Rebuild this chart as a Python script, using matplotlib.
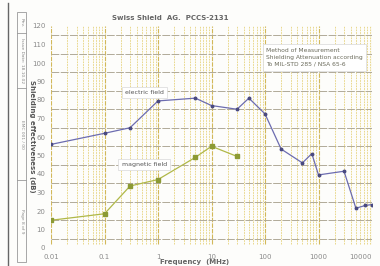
import matplotlib
matplotlib.use("Agg")
import matplotlib.pyplot as plt
from matplotlib.patches import Rectangle
from matplotlib.ticker import FixedLocator, NullFormatter

# data
elec_freq = [0.01, 0.1, 0.3, 1, 5, 10, 30, 50, 100, 200, 500, 750, 1000, 3000, 5000, 7500, 10000]
elec_db = [56, 62, 65, 79.5, 81, 77, 75, 81, 72.5, 53.5, 46, 51, 39.5, 41.5, 21.5, 23, 23.5]
mag_freq = [0.01, 0.1, 0.3, 1, 5, 10, 30]
mag_db = [15, 18.5, 33.5, 37, 49, 55, 49.5]

x_ticks = [0.01, 0.1, 1, 10, 100, 1000, 10000]
x_labels = ["0.01", "0.1", "1", "10", "100", "1000", "10000"]
y_ticks = list(range(0, 121, 10))
y_grid = list(range(5, 120, 10))

strip_bounds = [12, 33, 88, 180, 262]
strip_texts = ["Rev.", "Issue Date: 18.10.02", "EMC 001 / 00", "Page 8 of 9"]

W, H = 380, 266
fig = plt.figure(figsize=(3.8, 2.66), dpi=100)
fig.patch.set_facecolor("#fdfdfb")

ax = fig.add_axes([51 / W, 1 - 248 / H, (372 - 51) / W, (248 - 26) / H])
ax.set_facecolor("#fdfdfb")
ax.set_xscale("log")
ax.set_xlim(0.01, 10000)
ax.set_ylim(0, 120)
for s in ax.spines.values():
    s.set_visible(False)

# grid: yellow verticals, greyish dashed horizontals (offset like the print)
minors = [m * 10.0 ** e for e in range(-2, 4) for m in range(2, 10)]
for f in minors:
    ax.axvline(f, ymin=0.02, color="#e6d27a", lw=0.6, ls=(0, (2, 1.2)), zorder=1)
for f in x_ticks:
    ax.axvline(f, ymin=0.02, color="#d2b85a", lw=0.8, ls=(0, (4, 1)), zorder=1)
for v in y_grid:
    ax.axhline(v, color="#b0aa98", lw=0.7, ls=(0, (8, 1.5)), zorder=1)

ax.xaxis.set_major_locator(FixedLocator(x_ticks))
ax.xaxis.set_minor_locator(FixedLocator(minors))
ax.xaxis.set_minor_formatter(NullFormatter())
ax.set_xticklabels(x_labels)
ax.set_yticks(y_ticks)
ax.tick_params(length=0, which="both", labelsize=5, labelcolor="#8a8a8a", pad=4)
last = ax.get_xticklabels()[-1]
last.set_horizontalalignment("right")

ax.plot(elec_freq, elec_db, color="#6c6cb0", lw=0.9, marker="o", ms=1.8,
        mfc="#4a4a80", mec="#4a4a80", zorder=3)
ax.plot(mag_freq, mag_db, color="#b0b848", lw=0.9, marker="s", ms=2.8,
        mfc="#8c9a34", mec="#8c9a34", zorder=3)

box = dict(boxstyle="square,pad=0.5", fc="white", ec="#d8d8d8", lw=0.5)
ax.text(0.55, 84, "electric field", fontsize=4.5, color="#555555", ha="center",
        va="center", bbox=box, zorder=4)
ax.text(0.55, 45, "magnetic field", fontsize=4.5, color="#555555", ha="center",
        va="center", bbox=box, zorder=4)
ax.text(105, 103, "Method of Measurement\nShielding Attenuation according\nTo MIL-STD 285 / NSA 65-6",
        fontsize=4.3, color="#6a6a5a", ha="left", va="center", linespacing=1.5,
        bbox=dict(boxstyle="square,pad=0.6", fc="white", ec="#d8d8d8", lw=0.5), zorder=4)

fig.text(170 / W, 1 - 18 / H, "Swiss Shield  AG.  PCCS-2131", fontsize=5, weight="bold",
         color="#666666", ha="center", va="center")
fig.text(195 / W, 1 - 262 / H, "Frequency  (MHz)", fontsize=5, weight="bold",
         color="#666666", ha="center", va="center")
fig.text(32 / W, 1 - 136 / H, "Shielding effectiveness (dB)", fontsize=5, weight="bold",
         color="#555555", ha="center", va="center", rotation=270)

# document info strip on the left
fig.add_artist(plt.Line2D([8 / W, 8 / W], [0, 1 - 3 / H], color="#666666", lw=1.0))
fig.add_artist(Rectangle((17 / W, 1 - strip_bounds[-1] / H), 9 / W,
                         (strip_bounds[-1] - strip_bounds[0]) / H, fill=False,
                         ec="#999999", lw=0.6))
for b in strip_bounds[1:-1]:
    fig.add_artist(plt.Line2D([17 / W, 26 / W], [1 - b / H, 1 - b / H], color="#999999", lw=0.6))
for i, t in enumerate(strip_texts):
    mid = (strip_bounds[i] + strip_bounds[i + 1]) / 2
    fig.text(21.5 / W, 1 - mid / H, t, fontsize=3.2, color="#888888", ha="center",
             va="center", rotation=270)

fig.savefig("out.png", dpi=100, facecolor=fig.get_facecolor())
